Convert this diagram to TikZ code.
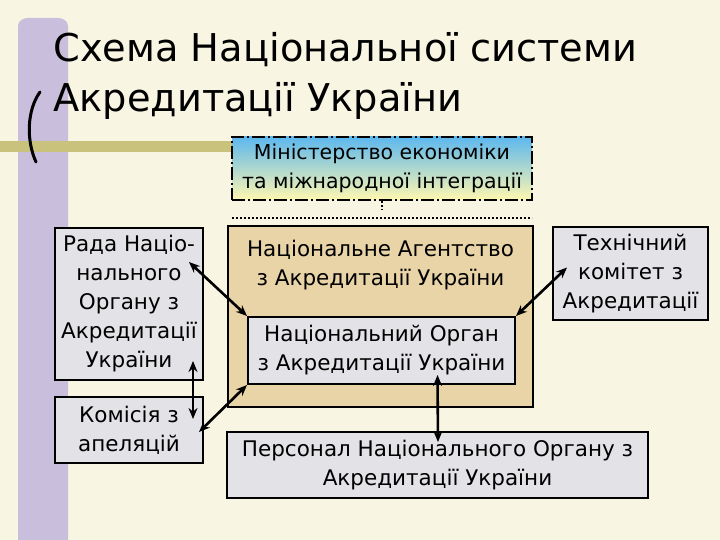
\documentclass[tikz,border=0pt]{standalone}
\usepackage{fontspec}
\setmainfont{DejaVu Sans}
\usetikzlibrary{arrows.meta,calc}
\definecolor{paper}{HTML}{F8F5E3}
\definecolor{lilac}{HTML}{C9BEDB}
\definecolor{olive}{HTML}{C8C27C}
\definecolor{marble}{HTML}{E3E3E7}
\definecolor{tan}{HTML}{E9D4A8}
\definecolor{sky}{HTML}{5DB8EE}
\definecolor{cream}{HTML}{FFF7B0}
\tikzset{
  box/.style={draw, line width=2pt, fill=marble, align=center, inner sep=0pt,
    font=\fontsize{21.5}{29}\selectfont},
  link/.style={{Stealth[length=11pt,width=9pt]}-{Stealth[length=11pt,width=9pt]}, line width=2.6pt},
}
\begin{document}
\begin{tikzpicture}[x=1pt, y=-1pt]
\fill[paper] (0,0) rectangle (720,540);
\useasboundingbox (0,0) rectangle (720,540);
% decoration
\fill[lilac] (18,540) -- (18,26) to[out=90,in=180] (28,18) -- (58,18) to[out=0,in=90] (68,26) -- (68,540) -- cycle;
\fill[olive] (0,141) rectangle (232,152);
\draw[line width=3pt, line cap=round] (40,92) .. controls (27,110) and (26,140) .. (36,162);
% title
\node[anchor=west, align=left, font=\fontsize{38.3}{50}\selectfont] (title) at (50,76)
  {Схема Національної системи\\Акредитації України};

\node[draw, line width=2pt, dash pattern=on 13pt off 3pt on 2pt off 3pt,
  top color=sky, bottom color=cream, minimum width=300, minimum height=63,
  align=center, inner sep=0pt, font=\fontsize{20.5}{29}\selectfont] (mini) at (382,168.5)
  {Міністерство економіки\\та міжнародної інтеграції};
\coordinate (dl) at (232,218);
\coordinate (dr) at (532,218);
\draw[line width=2pt, dotted] (dl) -- (dr);
\draw[line width=2pt, dotted] (mini.south) -- ++(0,9);

\node[box, fill=tan, minimum width=305, minimum height=181,
  label={[anchor=north, yshift=-12pt, align=center, font=\fontsize{21.5}{29}\selectfont]north:Національне Агентство\\з Акредитації України}]
  (agency) at (380.5,316.5) {};
\node[box, minimum width=267, minimum height=67] (organ) at (381.5,350.5)
  {Національний Орган\\з Акредитації України};

\node[box, minimum width=148, minimum height=152] (rada) at (129,304)
  {Рада Націо-\\нального\\Органу з\\Акредитації\\України};
\node[box, minimum width=148, minimum height=66] (komisia) at (129,430)
  {Комісія з\\апеляцій};
\node[box, minimum width=155, minimum height=93] (tech) at (630.5,273.5)
  {Технічний\\комітет з\\Акредитації};
\node[box, minimum width=421, minimum height=66] (personal) at (437.5,465)
  {Персонал Національного Органу з\\Акредитації України};

\draw[link] ($(rada.north east)+(-15,35)$) -- (organ.north west);
\draw[link] ($(rada.south east)+(-11,-20)$) -- ($(komisia.north east)+(-11,23)$);
\draw[link] ($(komisia.east)+(-5,2)$) -- (organ.south west);
\draw[link] ($(tech.west)+(15,-6)$) -- (organ.north east);
\draw[link] ($(organ.south)+(56,-10)$) -- ($(personal.north)+(0.5,11)$);
\end{tikzpicture}
\end{document}
